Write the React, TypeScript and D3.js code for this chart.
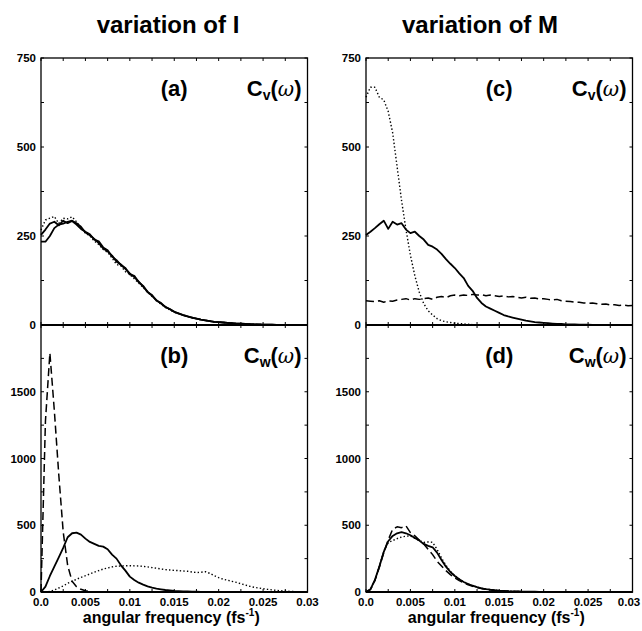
import React from 'react';
import * as d3 from 'd3';

// angular frequency grid (fs^-1)
const FREQ = [
  0, 0.0005, 0.001, 0.0015, 0.002, 0.0025, 0.003, 0.0035, 0.004, 0.0045,
  0.005, 0.0055, 0.006, 0.0065, 0.007, 0.0075, 0.008, 0.0085, 0.009, 0.0095,
  0.01, 0.0105, 0.011, 0.0115, 0.012, 0.0125, 0.013, 0.0135, 0.014, 0.0145,
  0.015, 0.0155, 0.016, 0.0165, 0.017, 0.0175, 0.018, 0.0185, 0.019, 0.0195,
  0.02, 0.0205, 0.021, 0.0215, 0.022, 0.0225, 0.023, 0.0235, 0.024, 0.0245,
  0.025, 0.0255, 0.026, 0.0265, 0.027, 0.0275, 0.028, 0.0285, 0.029, 0.0295, 0.03,
];

// (a) Cv, variation of I
const A_SOLID = [
  234, 234, 250, 272, 282, 285, 290, 293, 286, 276,
  260, 252, 242, 230, 215, 207, 195, 178, 170, 158,
  145, 135, 122, 108, 94, 82, 70, 60, 51, 44,
  37, 32, 28, 24, 21, 18, 15, 13, 11, 9,
  8, 7, 6, 5, 4, 3.5, 3, 2.5, 2, 1.5,
  1, 1, 0.8, 0.6, 0.5, 0.4, 0.3, 0.2, 0.1, 0.1, 0,
];
const A_DASHED = [
  253, 268, 285, 290, 280, 293, 286, 292, 282, 270,
  262, 255, 240, 235, 218, 210, 192, 182, 168, 160,
  142, 138, 120, 110, 92, 84, 68, 62, 50, 45,
  37, 33, 28, 24, 21, 18, 15, 13, 11, 9,
  8, 7, 6, 5, 4, 3.5, 3, 2.5, 2, 1.5,
  1, 1, 0.8, 0.6, 0.5, 0.4, 0.3, 0.2, 0.1, 0.1, 0,
];
const A_DOTTED = [
  267, 295, 300, 305, 285, 300, 298, 304, 290, 272,
  258, 250, 236, 226, 212, 204, 188, 170, 166, 150,
  142, 130, 118, 105, 92, 80, 70, 58, 50, 42,
  36, 32, 27, 24, 20, 18, 15, 13, 11, 9,
  8, 7, 6, 5, 4, 3.5, 3, 2.5, 2, 1.5,
  1, 1, 0.8, 0.6, 0.5, 0.4, 0.3, 0.2, 0.1, 0.1, 0,
];

// (b) Cw, variation of I
const B_SOLID = [
  0, 40, 120, 190, 260, 330, 410, 440, 445, 430,
  400, 375, 360, 345, 340, 320, 280, 250, 200, 160,
  115, 90, 70, 55, 42, 32, 25, 20, 15, 12,
  9, 7, 5, 4, 3, 2, 1, 1, 0.5, 0.5,
  0, 0, 0, 0, 0, 0, 0, 0, 0, 0,
  0, 0, 0, 0, 0, 0, 0, 0, 0, 0, 0,
];
const B_DASHED = [
  0, 1280, 1790, 1360, 880, 450, 200, 80, 40, 20,
  10, 4, 0, 0, 0, 0, 0, 0, 0, 0,
  0, 0, 0, 0, 0, 0, 0, 0, 0, 0,
  0, 0, 0, 0, 0, 0, 0, 0, 0, 0,
  0, 0, 0, 0, 0, 0, 0, 0, 0, 0,
  0, 0, 0, 0, 0, 0, 0, 0, 0, 0, 0,
];
const B_DOTTED = [
  0, 0, 5, 15, 30, 45, 65, 80, 95, 110,
  122, 135, 148, 160, 172, 180, 188, 193, 195, 196,
  197, 196, 195, 192, 188, 183, 178, 172, 168, 165,
  162, 160, 157, 155, 150, 146, 148, 152, 140, 122,
  108, 96, 88, 80, 72, 62, 52, 43, 35, 30,
  25, 20, 16, 12, 9, 7, 5, 3, 2, 1, 0,
];

// (c) Cv, variation of M
const C_SOLID = [
  253, 262, 272, 283, 293, 270, 290, 282, 286, 268,
  258, 262, 250, 240, 225, 220, 212, 200, 185, 172,
  160, 145, 132, 110, 96, 76, 62, 52, 46, 40,
  34, 28, 24, 21, 18, 15, 12, 10, 8, 7,
  6, 5, 4, 3, 3, 2, 2, 1.5, 1, 1,
  0.8, 0.6, 0.5, 0.4, 0.3, 0.2, 0.1, 0.1, 0, 0, 0,
];
const C_DASHED = [
  68, 67, 66, 68, 64, 68, 67, 70, 72, 74,
  70, 74, 72, 74, 76, 72, 78, 80, 77, 82,
  84, 82, 84, 83, 86, 84, 85, 82, 84, 82,
  80, 82, 79, 80, 78, 76, 78, 75, 76, 73,
  74, 72, 70, 72, 68, 67, 66, 64, 64, 62,
  61, 62, 60, 58, 59, 56, 57, 55, 56, 54, 55,
];
const C_DOTTED = [
  640, 668, 668, 640, 632, 600, 540, 445, 350, 268,
  196, 138, 92, 60, 40, 28, 18, 12, 9, 7,
  5, 4, 3, 2, 1, 1, 0.5, 0, 0, 0,
  0, 0, 0, 0, 0, 0, 0, 0, 0, 0,
  0, 0, 0, 0, 0, 0, 0, 0, 0, 0,
  0, 0, 0, 0, 0, 0, 0, 0, 0, 0, 0,
];

// (d) Cw, variation of M
const D_SOLID = [
  0, 20, 90, 190, 300, 380, 420, 440, 448, 440,
  425, 405, 385, 360, 345, 335, 295, 240, 190, 150,
  120, 95, 75, 60, 47, 37, 28, 22, 17, 13,
  10, 8, 6, 5, 4, 3, 3, 2, 2, 1,
  1, 1, 0.5, 0.5, 0, 0, 0, 0, 0, 0,
  0, 0, 0, 0, 0, 0, 0, 0, 0, 0, 0,
];
const D_DASHED = [
  0, 20, 85, 185, 295, 390, 470, 488, 482, 495,
  445, 420, 390, 360, 320, 280, 230, 195, 160, 130,
  105, 85, 68, 54, 43, 34, 26, 20, 15, 12,
  9, 7, 5, 4, 3, 3, 2, 2, 1, 1,
  1, 0.5, 0.5, 0, 0, 0, 0, 0, 0, 0,
  0, 0, 0, 0, 0, 0, 0, 0, 0, 0, 0,
];
const D_DOTTED = [
  0, 18, 88, 192, 305, 370, 385, 400, 412, 418,
  420, 402, 385, 372, 375, 372, 320, 255, 200, 155,
  122, 96, 76, 60, 47, 37, 28, 22, 17, 13,
  10, 8, 6, 5, 4, 3, 3, 2, 2, 1,
  1, 1, 0.5, 0.5, 0, 0, 0, 0, 0, 0,
  0, 0, 0, 0, 0, 0, 0, 0, 0, 0, 0,
];

const TITLES = ['variation of I', 'variation of M'];
const X_TICK_VALUES = [0, 0.005, 0.01, 0.015, 0.02, 0.025, 0.03];
const X_TICK_LABELS = ['0.0', '0.005', '0.01', '0.015', '0.02', '0.025', '0.03'];
const CV_TICKS = [0, 250, 500, 750];
const CW_TICKS = [0, 500, 1000, 1500];

const FONT = '"Liberation Sans", Arial, Helvetica, sans-serif';

const W = 642;
const H = 631;
const PLOT_W = 266.5;
const COL_X = [41, 366];
const TOP_Y = 58;
const MID_Y = 325;
const BOT_Y = 592;

type Series = { values: number[]; dash: string | null; width: number };

const STYLE_SOLID = { dash: null, width: 1.8 };
const STYLE_DASHED = { dash: '8,4', width: 1.5 };
const STYLE_DOTTED = { dash: '1.4,2.2', width: 1.4 };

const PANELS = [
  { col: 0, upper: true, label: '(a)', sub: 'v', series: [
    { values: A_SOLID, ...STYLE_SOLID }, { values: A_DASHED, ...STYLE_SOLID }, { values: A_DOTTED, ...STYLE_DOTTED } ] },
  { col: 0, upper: false, label: '(b)', sub: 'w', series: [
    { values: B_SOLID, ...STYLE_SOLID }, { values: B_DASHED, ...STYLE_DASHED }, { values: B_DOTTED, ...STYLE_DOTTED } ] },
  { col: 1, upper: true, label: '(c)', sub: 'v', series: [
    { values: C_SOLID, ...STYLE_SOLID }, { values: C_DASHED, ...STYLE_DASHED }, { values: C_DOTTED, ...STYLE_DOTTED } ] },
  { col: 1, upper: false, label: '(d)', sub: 'w', series: [
    { values: D_SOLID, ...STYLE_SOLID }, { values: D_DASHED, ...STYLE_DASHED }, { values: D_DOTTED, ...STYLE_DOTTED } ] },
];

function Panel({ p }: { p: typeof PANELS[number] }) {
  const x0 = COL_X[p.col];
  const x = d3.scaleLinear().domain([0, 0.03]).range([x0, x0 + PLOT_W]);
  const y = p.upper
    ? d3.scaleLinear().domain([0, 750]).range([MID_Y, TOP_Y])
    : d3.scaleLinear().domain([0, 2000]).range([BOT_Y, MID_Y]);
  const yTicks = p.upper ? CV_TICKS : CW_TICKS;
  const minorY = p.upper ? d3.range(0, 751, 125) : d3.range(0, 2001, 250);
  const line = d3.line<number>().x((_, i) => x(FREQ[i])).y((v) => y(v));
  const top = p.upper ? TOP_Y : MID_Y;
  const bottom = p.upper ? MID_Y : BOT_Y;
  const minorX = d3.range(0, 13).map((i) => i * 0.0025);
  return (
    <g>
      {p.series.map((s: Series, i: number) => (
        <path key={i} d={line(s.values) || ''} fill="none" stroke="#000"
          strokeWidth={s.width} strokeDasharray={s.dash || undefined} strokeLinejoin="round" />
      ))}
      {minorX.map((f, i) => (
        <g key={'xt' + i}>
          <line x1={x(f)} x2={x(f)} y1={top} y2={top + 3} stroke="#000" strokeWidth={1} />
          <line x1={x(f)} x2={x(f)} y1={bottom} y2={bottom - 3} stroke="#000" strokeWidth={1} />
        </g>
      ))}
      {minorY.map((v, i) => (
        <g key={'yt' + i}>
          <line x1={x0} x2={x0 + 3} y1={y(v)} y2={y(v)} stroke="#000" strokeWidth={1} />
          <line x1={x0 + PLOT_W} x2={x0 + PLOT_W - 3} y1={y(v)} y2={y(v)} stroke="#000" strokeWidth={1} />
        </g>
      ))}
      {yTicks.map((v) => (
        <text key={'yl' + v} x={x0 - 5} y={y(v)} dy="0.36em" textAnchor="end"
          fontSize={11.5} fontWeight="bold" fontFamily={FONT}>{v}</text>
      ))}
      <text x={x0 + PLOT_W / 2} y={top + 37.5} textAnchor="middle" fontSize={22}
        fontWeight="bold" fontFamily={FONT}>{p.label}</text>
      <text x={x0 + PLOT_W - 6} y={top + 37.5} textAnchor="end" fontSize={22}
        fontWeight="bold" fontFamily={FONT}>
        <tspan>C</tspan>
        <tspan fontSize={14} dy={4}>{p.sub}</tspan>
        <tspan dy={-4}>(</tspan>
        <tspan fontStyle="italic" fontWeight="normal" fontFamily='"DejaVu Serif", serif' fontSize={20}>ω</tspan>
        <tspan>)</tspan>
      </text>
    </g>
  );
}

export default function App() {
  return (
    <svg width={W} height={H} style={{ position: 'absolute', left: 0, top: 0, background: '#fff' }}>
      <rect x={0} y={0} width={W} height={H} fill="#fff" />
      {PANELS.map((p, i) => <Panel key={i} p={p} />)}
      {COL_X.map((x0, c) => {
        const x = d3.scaleLinear().domain([0, 0.03]).range([x0, x0 + PLOT_W]);
        return (
          <g key={'col' + c}>
            <rect x={x0} y={TOP_Y} width={PLOT_W} height={BOT_Y - TOP_Y} fill="none" stroke="#000" strokeWidth={1.3} />
            <line x1={x0} x2={x0 + PLOT_W} y1={MID_Y} y2={MID_Y} stroke="#000" strokeWidth={2} />
            <line x1={x0} x2={x0 + PLOT_W} y1={BOT_Y} y2={BOT_Y} stroke="#000" strokeWidth={2} />
            {X_TICK_VALUES.map((v, i) => (
              <text key={'xl' + i} x={Math.min(x(v), W - 13)} y={BOT_Y + 14} textAnchor="middle" fontSize={11.5}
                fontWeight="bold" fontFamily={FONT}>{X_TICK_LABELS[i]}</text>
            ))}
            <text x={x0 + PLOT_W / 2 - 3} y={623} textAnchor="middle" fontSize={16} fontWeight="bold" fontFamily={FONT}>
              <tspan>angular frequency (fs</tspan>
              <tspan fontSize={10} dy={-7}>-1</tspan>
              <tspan dy={7}>)</tspan>
            </text>
          </g>
        );
      })}
      <text x={168} y={33} textAnchor="middle" fontSize={24} fontWeight="bold" fontFamily={FONT}>{TITLES[0]}</text>
      <text x={480} y={33} textAnchor="middle" fontSize={24} fontWeight="bold" fontFamily={FONT}>{TITLES[1]}</text>
    </svg>
  );
}
